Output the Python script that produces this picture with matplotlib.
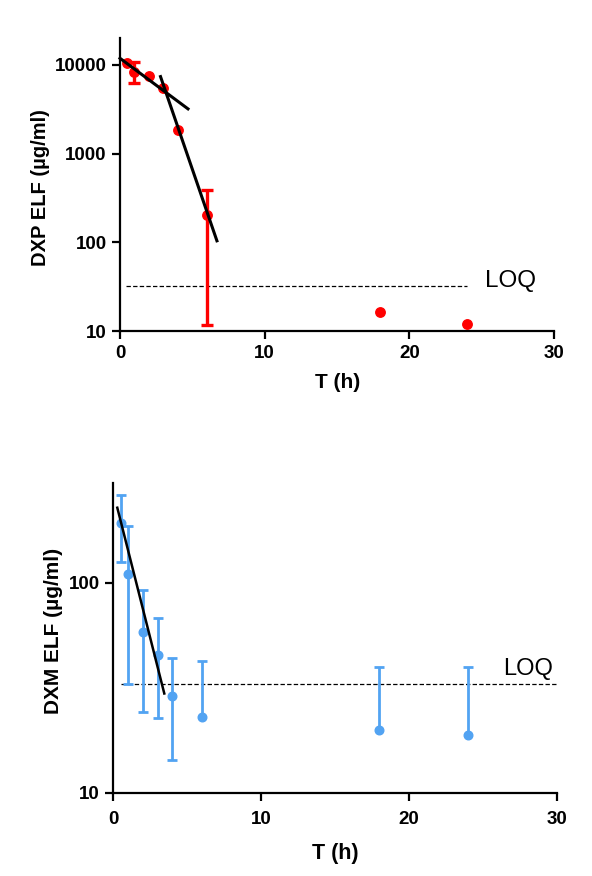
import numpy as np
import matplotlib
matplotlib.use("Agg")
import matplotlib.pyplot as plt

plt.rcParams['font.family'] = ['Liberation Sans', 'DejaVu Sans']

# ---- DXP (top) data ----
dxp_t = [0.5, 1, 2, 3, 4, 6, 18, 24]
dxp_c = [10500, 8300, 7500, 5450, 1870, 205, 16.4, 12.1]
dxp_hi = [np.nan, 10900, np.nan, np.nan, np.nan, 391, np.nan, np.nan]
dxp_lo = [np.nan, 6200, np.nan, np.nan, np.nan, 11.6, np.nan, np.nan]
dxp_fit1_t = [0, 4.7]
dxp_fit1_c = [11900, 3200]
dxp_fit2_t = [2.8, 6.7]
dxp_fit2_c = [7400, 104]
dxp_loq = 32
dxp_loq_t = [0.4, 24]

# ---- DXM (bottom) data ----
dxm_t = [0.5, 1, 2, 3, 4, 6, 18, 24]
dxm_c = [193, 110, 58, 45.2, 28.8, 23, 20, 18.9]
dxm_hi = [262, 186, 92, 68, 44, 42.5, 39.5, 39.5]
dxm_lo = [125, 33, 24.3, 22.8, 14.3, np.nan, np.nan, np.nan]
dxm_fit_t = [0.27, 3.45]
dxm_fit_c = [228, 29.7]
dxm_loq = 33
dxm_loq_t = [0.5, 30]

x_ticks = [0, 10, 20, 30]
top_yticks = [10, 100, 1000, 10000]
bot_yticks = [10, 100]

RED = '#FF0000'
BLUE = '#52A3F2'

W, H = 592, 876
fig = plt.figure(figsize=(W / 100, H / 100), dpi=100)
fig.patch.set_facecolor('white')


def px_axes(left, right, top, bottom):
    return fig.add_axes([left / W, 1 - bottom / H, (right - left) / W, (bottom - top) / H])


def style(ax, fs):
    for s in ['top', 'right']:
        ax.spines[s].set_visible(False)
    for s in ['left', 'bottom']:
        ax.spines[s].set_linewidth(1.6)
    ax.tick_params(axis='both', which='major', length=6, width=1.6, labelsize=fs)
    ax.tick_params(axis='y', which='minor', length=0)
    for lab in ax.get_xticklabels() + ax.get_yticklabels():
        lab.set_fontweight('bold')


def errbars(ax, t, c, hi, lo, color, lw, capw):
    t = np.array(t, float); c = np.array(c, float)
    hi = np.array(hi, float); lo = np.array(lo, float)
    m = ~np.isnan(hi)
    ax.vlines(t[m], c[m], hi[m], color=color, lw=lw, zorder=3)
    ax.plot(t[m], hi[m], ls='none', marker='_', ms=capw, mew=lw, color=color, zorder=3)
    m = ~np.isnan(lo)
    ax.vlines(t[m], lo[m], c[m], color=color, lw=lw, zorder=3)
    ax.plot(t[m], lo[m], ls='none', marker='_', ms=capw, mew=lw, color=color, zorder=3)


# ---------- Top ----------
ax1 = px_axes(120, 554, 38.3, 331)
ax1.set_yscale('log')
ax1.set_xlim(0, 30)
ax1.set_ylim(10, 20000)
ax1.set_xticks(x_ticks)
ax1.set_yticks(top_yticks)
ax1.set_yticklabels([str(v) for v in top_yticks])
ax1.yaxis.set_minor_locator(matplotlib.ticker.NullLocator())
errbars(ax1, dxp_t, dxp_c, dxp_hi, dxp_lo, RED, 2.4, 9)
ax1.plot(dxp_t, dxp_c, ls='none', marker='o', ms=6.8, color=RED, zorder=4)
ax1.plot(dxp_fit1_t, dxp_fit1_c, color='black', lw=2.2, zorder=5, clip_on=False)
ax1.plot(dxp_fit2_t, dxp_fit2_c, color='black', lw=2.2, zorder=5)
ax1.plot(dxp_loq_t, [dxp_loq, dxp_loq], color='black', lw=0.9, ls=(0, (3.5, 1.8)), zorder=2)
ax1.text(25.2, 36.8, 'LOQ', fontsize=17.5, ha='left', va='center')
style(ax1, 13.5)
ax1.tick_params(axis='x', pad=4)
fig.text(337.5 / W, 1 - 382 / H, 'T (h)', fontsize=15, fontweight='bold', ha='center', va='center')
fig.text(41 / W, 1 - 188 / H, 'DXP ELF (µg/ml)', fontsize=14.5, fontweight='bold',
         ha='center', va='center', rotation=90)

# ---------- Bottom ----------
ax2 = px_axes(113.3, 556.7, 482.7, 792.7)
ax2.set_yscale('log')
ax2.set_xlim(0, 30)
ax2.set_ylim(10, 300)
ax2.set_xticks(x_ticks)
ax2.set_yticks(bot_yticks)
ax2.set_yticklabels([str(v) for v in bot_yticks])
ax2.yaxis.set_minor_locator(matplotlib.ticker.NullLocator())
errbars(ax2, dxm_t, dxm_c, dxm_hi, dxm_lo, BLUE, 2.0, 7)
ax2.plot(dxm_t, dxm_c, ls='none', marker='o', ms=6.2, color=BLUE, zorder=4)
ax2.plot(dxm_fit_t, dxm_fit_c, color='black', lw=1.8, zorder=5)
ax2.plot(dxm_loq_t, [dxm_loq, dxm_loq], color='black', lw=0.9, ls=(0, (3.5, 1.8)), zorder=2)
ax2.text(26.4, 38.9, 'LOQ', fontsize=17, ha='left', va='center')
style(ax2, 13.5)
ax2.tick_params(axis='x', pad=7)
fig.text(335 / W, 1 - 853 / H, 'T (h)', fontsize=15.5, fontweight='bold', ha='center', va='center')
fig.text(54 / W, 1 - 631 / H, 'DXM ELF (µg/ml)', fontsize=15, fontweight='bold',
         ha='center', va='center', rotation=90)

fig.savefig('out.png', dpi=100, facecolor='white')
